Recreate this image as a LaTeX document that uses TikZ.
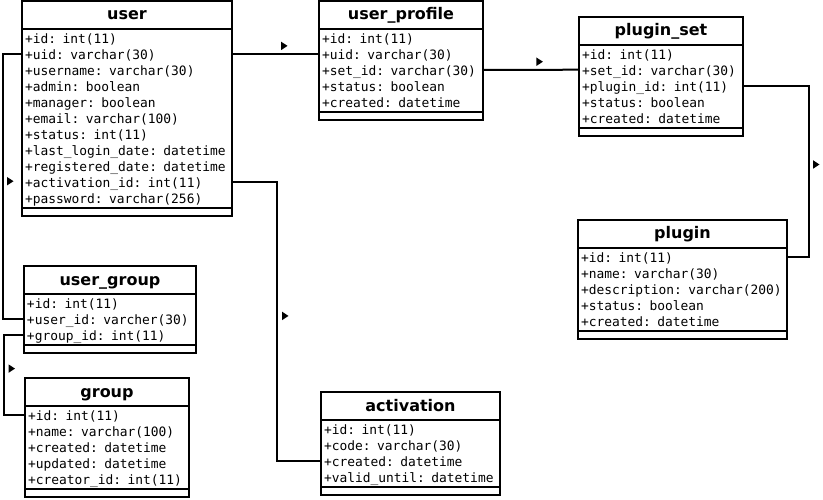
\documentclass[tikz,border=0pt]{standalone}
\usepackage{fontspec}
\newfontfamily\fieldfont{DejaVu Sans Mono}
\newfontfamily\headfont{DejaVu Sans}
\usetikzlibrary{positioning,shapes.geometric}

\begin{document}
\begin{tikzpicture}[x=1pt, y=-1pt,
        tblhead/.style={draw, line width=2pt, anchor=north west, inner sep=0pt, outer sep=0pt,
            minimum height=28pt, text height=12pt, text depth=2pt,
            font=\headfont\bfseries\fontsize{16}{16}\selectfont},
        tblrow/.style={inner xsep=3pt, inner ysep=0pt, outer sep=0pt, minimum height=16pt,
            text height=12pt, text depth=1pt, align=left,
            font=\fieldfont\fontsize{12.9}{16}\selectfont},
        tblfoot/.style={inner sep=0pt, outer sep=0pt, minimum height=8pt},
        tblline/.style={line width=2pt},
        link/.style={line width=2pt},
        dirmark/.style={isosceles triangle, isosceles triangle stretches, fill,
            minimum width=8.5pt, minimum height=6.5pt, inner sep=0pt}]

    \path[fill=white, use as bounding box] (0,0) rectangle (823,500);

    % user
    \node[tblhead, minimum width=210pt] (user) at (22,1) {user};
    \coordinate (user-0) at ([yshift=-1pt]user.south);
    \foreach \f [count=\i, remember=\i as \j (initially 0)] in {+id: int(11), +uid: varchar(30),
            +username: varchar(30), +admin: boolean, +manager: boolean, +email: varchar(100),
            +status: int(11), +last\_login\_date: datetime, +registered\_date: datetime,
            +activation\_id: int(11), +password: varchar(256)}
        \node[tblrow, text width=204pt, below=0pt of user-\j] (user-\i) {\f};
    \node[tblfoot, minimum width=210pt, below=2pt of user-11] (user-end) {};
    \draw[tblline] (user.south west) rectangle (user-end.south east);
    \draw[tblline] (user-end.north west) -- (user-end.north east);

    % user_profile
    \node[tblhead, minimum width=164pt] (prof) at (319,1) {user\_profile};
    \coordinate (prof-0) at ([yshift=-1pt]prof.south);
    \foreach \f [count=\i, remember=\i as \j (initially 0)] in {+id: int(11), +uid: varchar(30),
            +set\_id: varchar(30), +status: boolean, +created: datetime}
        \node[tblrow, text width=158pt, below=0pt of prof-\j] (prof-\i) {\f};
    \node[tblfoot, minimum width=164pt, below=2pt of prof-5] (prof-end) {};
    \draw[tblline] (prof.south west) rectangle (prof-end.south east);
    \draw[tblline] (prof-end.north west) -- (prof-end.north east);

    % plugin_set
    \node[tblhead, minimum width=164pt] (pset) at (579,16.7) {plugin\_set};
    \coordinate (pset-0) at ([yshift=-1pt]pset.south);
    \foreach \f [count=\i, remember=\i as \j (initially 0)] in {+id: int(11), +set\_id: varchar(30),
            +plugin\_id: int(11), +status: boolean, +created: datetime}
        \node[tblrow, text width=158pt, below=0pt of pset-\j] (pset-\i) {\f};
    \node[tblfoot, minimum width=164pt, below=2pt of pset-5] (pset-end) {};
    \draw[tblline] (pset.south west) rectangle (pset-end.south east);
    \draw[tblline] (pset-end.north west) -- (pset-end.north east);

    % plugin
    \node[tblhead, minimum width=209pt] (plugin) at (578,220) {plugin};
    \coordinate (plugin-0) at ([yshift=-1pt]plugin.south);
    \foreach \f [count=\i, remember=\i as \j (initially 0)] in {+id: int(11), +name: varchar(30),
            +description: varchar(200), +status: boolean, +created: datetime}
        \node[tblrow, text width=203pt, below=0pt of plugin-\j] (plugin-\i) {\f};
    \node[tblfoot, minimum width=209pt, below=2pt of plugin-5] (plugin-end) {};
    \draw[tblline] (plugin.south west) rectangle (plugin-end.south east);
    \draw[tblline] (plugin-end.north west) -- (plugin-end.north east);

    % user_group
    \node[tblhead, minimum width=172pt] (ugroup) at (24,266) {user\_group};
    \coordinate (ugroup-0) at ([yshift=-1pt]ugroup.south);
    \foreach \f [count=\i, remember=\i as \j (initially 0)] in {+id: int(11),
            +user\_id: varcher(30), +group\_id: int(11)}
        \node[tblrow, text width=166pt, below=0pt of ugroup-\j] (ugroup-\i) {\f};
    \node[tblfoot, minimum width=172pt, below=2pt of ugroup-3] (ugroup-end) {};
    \draw[tblline] (ugroup.south west) rectangle (ugroup-end.south east);
    \draw[tblline] (ugroup-end.north west) -- (ugroup-end.north east);

    % group
    \node[tblhead, minimum width=164pt] (group) at (25,378) {group};
    \coordinate (group-0) at ([yshift=-1pt]group.south);
    \foreach \f [count=\i, remember=\i as \j (initially 0)] in {+id: int(11), +name: varchar(100),
            +created: datetime, +updated: datetime, +creator\_id: int(11)}
        \node[tblrow, text width=158pt, below=0pt of group-\j] (group-\i) {\f};
    \node[tblfoot, minimum width=164pt, below=2pt of group-5] (group-end) {};
    \draw[tblline] (group.south west) rectangle (group-end.south east);
    \draw[tblline] (group-end.north west) -- (group-end.north east);

    % activation
    \node[tblhead, minimum width=179pt] (act) at (321,392) {activation};
    \coordinate (act-0) at ([yshift=-1pt]act.south);
    \foreach \f [count=\i, remember=\i as \j (initially 0)] in {+id: int(11), +code: varchar(30),
            +created: datetime, +valid\_until: datetime}
        \node[tblrow, text width=173pt, below=0pt of act-\j] (act-\i) {\f};
    \node[tblfoot, minimum width=179pt, below=2pt of act-4] (act-end) {};
    \draw[tblline] (act.south west) rectangle (act-end.south east);
    \draw[tblline] (act-end.north west) -- (act-end.north east);

    % links
    \draw[link] (user-2.east) -- node[dirmark, pos=0.59, above=4pt] {} (prof-2.west);
    \draw[link] (prof-3.east) -- node[dirmark, pos=0.58, above=4pt] {} (pset-2.west);
    \draw[link] (pset-3.east) -- ++(66,0) |- node[dirmark, pos=0.23, right=3pt] {} (plugin-1.east);
    \draw[link] (user-2.west) -- ++(-19,0) |- node[dirmark, pos=0.24, right=3pt] {} (ugroup-2.west);
    \draw[link] (ugroup-3.west) -- ++(-20,0) |- node[dirmark, pos=0.21, right=3.5pt] {} (group-1.west);
    \draw[link] (user-10.east) -- ++(45,0) |- node[dirmark, pos=0.24, right=4pt] {} (act-3.west);
\end{tikzpicture}
\end{document}
